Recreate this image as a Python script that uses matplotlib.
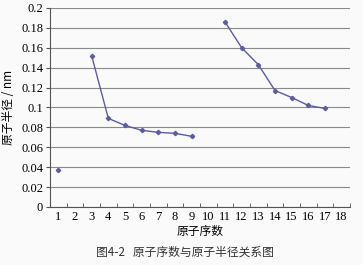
import matplotlib
matplotlib.use("Agg")
import matplotlib.pyplot as plt
import numpy as np

# atomic number vs atomic radius (nm)
seg1_x = [1]
seg1_y = [0.037]
seg2_x = [3, 4, 5, 6, 7, 8, 9]
seg2_y = [0.152, 0.089, 0.082, 0.077, 0.075, 0.074, 0.071]
seg3_x = [11, 12, 13, 14, 15, 16, 17]
seg3_y = [0.186, 0.160, 0.143, 0.117, 0.110, 0.102, 0.099]
x_ticks = list(range(1, 19))
y_ticks = [0, 0.02, 0.04, 0.06, 0.08, 0.1, 0.12, 0.14, 0.16, 0.18, 0.2]

SERIF = "Liberation Serif"
CJK = ["Noto Sans CJK SC", "DejaVu Sans"]
LINE = "#5b5ba6"

fig = plt.figure(figsize=(3.63, 2.65), dpi=100, facecolor="#fafafa")
ax = fig.add_axes([0.1377, 0.219, 0.8265, 0.751])
ax.set_facecolor("#fafafa")

for xs, ys in [(seg1_x, seg1_y), (seg2_x, seg2_y), (seg3_x, seg3_y)]:
    ax.plot(xs, ys, color=LINE, lw=1.0, marker="D", ms=2.2, zorder=3)

ax.set_xlim(0.5, 18.5)
ax.set_ylim(0, 0.2)
ax.set_yticks(y_ticks)
ax.set_yticklabels([f"{v:g}" for v in y_ticks], family=SERIF, fontsize=9)
ax.set_xticks(x_ticks)
ax.set_xticklabels([str(v) for v in x_ticks], family=SERIF, fontsize=9)
ax.set_xticks(np.arange(0.5, 19, 1), minor=True)
ax.tick_params(axis="x", which="major", length=0, pad=3)
ax.tick_params(axis="x", which="minor", length=3, direction="in", color="#555555")
ax.tick_params(axis="y", length=3, direction="out", color="#555555", pad=2)

ax.yaxis.grid(True, color="#8a8a8a", lw=0.8)
ax.set_axisbelow(True)
for s in ["top", "right"]:
    ax.spines[s].set_visible(False)
for s in ["left", "bottom"]:
    ax.spines[s].set_color("#555555")
    ax.spines[s].set_linewidth(0.8)

ax.set_ylabel("原子半径 / nm", family=CJK, fontsize=8.5, labelpad=4)
ax.set_xlabel("原子序数", family=CJK, fontsize=8.5, labelpad=1)

fig.text(0.51, 0.05, "图4-2   原子序数与原子半径关系图", family=CJK,
         fontsize=8.5, ha="center", va="center", color="#333333")

fig.savefig("out.png", dpi=100, facecolor=fig.get_facecolor())
